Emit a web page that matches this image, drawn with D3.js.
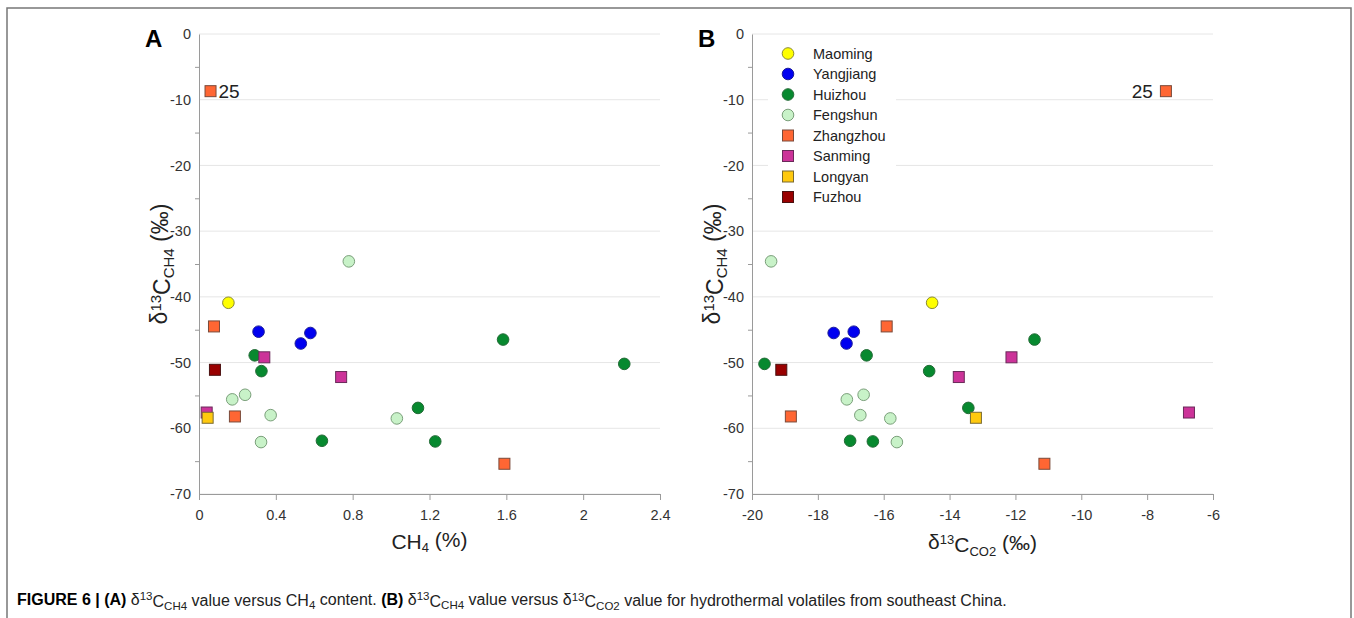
<!DOCTYPE html>
<html lang='en'>
<head>
  <meta charset='UTF-8'>
  <title>FIGURE 6 - d13C CH4 vs CH4 and d13C CO2</title>
  <style>
  body {
    margin: 0;
    background: #fff;
  }
  svg text {
    font-family: 'Liberation Sans', Arial, sans-serif;
    fill: #333;
  }
  .axis path, .axis line {
    stroke: #9a9a9a;
  }
  .axis text {
    font-size: 14.5px;
    fill: #333;
  }
  .grid line {
    stroke: #e6e6e6;
  }
  .panel-tag {
    font-size: 24px;
    font-weight: bold;
    fill: #000;
  }
  .label {
    font-size: 21px;
    fill: #222;
  }
  .ylabel {
    font-size: 23px;
    fill: #222;
  }
  .legend text {
    font-size: 14.5px;
    fill: #222;
  }
  .caption {
    font-size: 16px;
    fill: #222;
  }
  </style>
  <script src="https://d3js.org/d3.v7.min.js"></script>
</head>
<body>
  <script>

  // sites in legend order
  var sites = ['Maoming', 'Yangjiang', 'Huizhou', 'Fengshun', 'Zhangzhou', 'Sanming', 'Longyan', 'Fuzhou'];

  // one entry per sample
  var sampleSite = [
    'Maoming',
    'Yangjiang', 'Yangjiang', 'Yangjiang',
    'Huizhou', 'Huizhou', 'Huizhou', 'Huizhou', 'Huizhou', 'Huizhou', 'Huizhou',
    'Fengshun', 'Fengshun', 'Fengshun', 'Fengshun', 'Fengshun', 'Fengshun',
    'Zhangzhou', 'Zhangzhou', 'Zhangzhou', 'Zhangzhou',
    'Sanming', 'Sanming', 'Sanming',
    'Longyan',
    'Fuzhou'
  ];
  var ch4Pct = [
    0.153,
    0.31, 0.58, 0.53,
    0.29, 0.325, 0.64, 1.14, 1.23, 1.583, 2.214,
    0.78, 0.173, 0.24, 0.373, 0.323, 1.03,
    0.06, 0.078, 0.187, 1.59,
    0.34, 0.74, 0.04,
    0.045,
    0.083
  ];
  var d13cCH4 = [
    -40.9,
    -45.3, -45.5, -47.1,
    -48.9, -51.3, -61.9, -56.9, -62.0, -46.5, -50.2,
    -34.6, -55.6, -54.9, -58.0, -62.1, -58.5,
    -8.7, -44.5, -58.2, -65.4,
    -49.2, -52.2, -57.6,
    -58.4,
    -51.1
  ];
  var d13cCO2 = [
    -14.53,
    -16.91, -17.52, -17.13,
    -16.52, -14.62, -17.02, -13.43, -16.33, -11.42, -19.62,
    -19.42, -17.12, -16.61, -16.71, -15.60, -15.80,
    -7.43, -15.91, -18.82, -11.12,
    -12.12, -13.72, -6.73,
    -13.20,
    -19.11
  ];
  var sampleLabel = ['', '', '', '', '', '', '', '', '', '', '', '', '', '', '', '', '',
    '25', '', '', '', '', '', '', '', ''];

  var ch4Ticks = [0, 0.4, 0.8, 1.2, 1.6, 2, 2.4];
  var co2Ticks = [-20, -18, -16, -14, -12, -10, -8, -6];
  var yTicks = [0, -10, -20, -30, -40, -50, -60, -70];
  var yMinorTicks = [-5, -15, -25, -35, -45, -55, -65];

  // marker styles
  var fill = d3.scaleOrdinal().domain(sites)
    .range(['#ffff00', '#0000f0', '#07892f', '#c8f2c8', '#ff6633', '#cc3399', '#ffc90e', '#990000']);
  var stroke = d3.scaleOrdinal().domain(sites)
    .range(['#8a8a30', '#1a1a9a', '#236b36', '#7a9f7a', '#7a4a3a', '#6a2a5a', '#7a6a30', '#4a1010']);
  var squareSites = ['Zhangzhou', 'Sanming', 'Longyan', 'Fuzhou'];

  var samples = sampleSite.map(function (s, i) {
    return { site: s, ch4: ch4Pct[i], dch4: d13cCH4[i], dco2: d13cCO2[i], label: sampleLabel[i] };
  });

  var svgWidth = 1354;
  var svgHeight = 618;
  var svg = d3.select('body').append('svg')
    .attr('width', svgWidth)
    .attr('height', svgHeight);

  // outer frame, open at the bottom
  svg.append('rect')
    .attr('x', 7).attr('y', 8)
    .attr('width', 1344).attr('height', 640)
    .attr('fill', 'none')
    .attr('stroke', '#777')
    .attr('stroke-width', 1.5);

  var plotTop = 34;
  var plotBottom = 494;
  var y = d3.scaleLinear().domain([-70, 0]).range([plotBottom, plotTop]);
  var plain = function (d) { return String(d); }; // keep hyphen minus like the original

  function drawMarker(sel, size) {
    sel.each(function (d) {
      var node = d3.select(this);
      if (squareSites.indexOf(d.site) >= 0) {
        node.append('rect')
          .attr('x', -size / 2).attr('y', -size / 2)
          .attr('width', size).attr('height', size);
      } else {
        node.append('circle').attr('r', size / 2 + 0.3);
      }
      node.selectAll('rect, circle')
        .attr('fill', fill(d.site))
        .attr('stroke', stroke(d.site))
        .attr('stroke-width', 1);
    });
  }

  // d13C-style label built of tspans: [text, 'sup'|'sub'|null]
  function richText(text, parts, subSize) {
    var shift = 0;
    parts.forEach(function (p) {
      var t = text.append('tspan').text(p[0]);
      var target = p[1] === 'sup' ? -0.42 : p[1] === 'sub' ? 0.25 : 0;
      t.attr('dy', (target - shift) + 'em');
      shift = target;
      if (p[1]) t.style('font-size', subSize);
    });
  }

  function drawPanel(opt) {
    var x = d3.scaleLinear().domain(opt.domain).range([opt.left, opt.right]);
    var g = svg.append('g');

    // grid
    g.append('g').attr('class', 'grid')
      .selectAll('line').data(yTicks).enter().append('line')
      .attr('x1', opt.left).attr('x2', opt.right)
      .attr('y1', function (d) { return y(d); })
      .attr('y2', function (d) { return y(d); });

    // axes
    g.append('g')
      .attr('class', 'axis')
      .attr('transform', 'translate(0,' + plotBottom + ')')
      .call(d3.axisBottom(x).tickValues(opt.ticks).tickSize(6).tickSizeOuter(0).tickPadding(10)
        .tickFormat(plain));

    g.append('g')
      .attr('class', 'axis')
      .attr('transform', 'translate(' + opt.left + ',0)')
      .call(d3.axisLeft(y).tickValues(yTicks).tickSize(0).tickPadding(8).tickFormat(plain));

    g.append('g')
      .attr('class', 'axis')
      .attr('transform', 'translate(' + opt.left + ',0)')
      .call(d3.axisLeft(y).tickValues(yMinorTicks).tickSize(4).tickSizeOuter(0).tickFormat(''))
      .select('.domain').remove();

    // panel tag
    g.append('text')
      .attr('class', 'panel-tag')
      .attr('x', opt.left - 54)
      .attr('y', 47)
      .text(opt.tag);

    // axis labels
    var xl = g.append('text')
      .attr('class', 'label')
      .attr('text-anchor', 'middle')
      .attr('x', (opt.left + opt.right) / 2)
      .attr('y', 549);
    richText(xl, opt.xLabel, '13px');

    var yl = g.append('text')
      .attr('class', 'ylabel')
      .attr('text-anchor', 'middle')
      .attr('transform', 'translate(' + (opt.left - 32) + ',' + ((plotTop + plotBottom) / 2) + ') rotate(-90)');
    richText(yl, [['δ', null], ['13', 'sup'], ['C', null], ['CH4', 'sub'], [' (‰)', null]], '15px');

    // points
    var pts = g.selectAll('.pt')
      .data(samples)
      .enter()
      .append('g')
      .attr('class', 'pt')
      .attr('transform', function (d) { return 'translate(' + x(d[opt.key]) + ',' + y(d.dch4) + ')'; });
    drawMarker(pts, 11);

    g.selectAll('.pt-label')
      .data(samples.filter(function (d) { return d.label; }))
      .enter()
      .append('text')
      .attr('class', 'pt-label')
      .attr('x', function (d) { return x(d[opt.key]) + opt.labelDx; })
      .attr('y', function (d) { return y(d.dch4); })
      .attr('dy', '0.36em')
      .attr('text-anchor', opt.labelAnchor)
      .style('font-size', '19px')
      .style('fill', '#222')
      .text(function (d) { return d.label; });

    return g;
  }

  drawPanel({
    tag: 'A', key: 'ch4', domain: [0, 2.4], ticks: ch4Ticks, left: 199, right: 660,
    xLabel: [['CH', null], ['4', 'sub'], [' (%)', null]],
    labelDx: 8, labelAnchor: 'start'
  });

  var panelB = drawPanel({
    tag: 'B', key: 'dco2', domain: [-20, -6], ticks: co2Ticks, left: 752, right: 1213,
    xLabel: [['δ', null], ['13', 'sup'], ['C', null], ['CO2', 'sub'], [' (‰)', null]],
    labelDx: -13, labelAnchor: 'end'
  });

  // legend (white box over the grid)
  var legend = panelB.append('g').attr('class', 'legend');
  legend.append('rect')
    .attr('x', 768).attr('y', 40)
    .attr('width', 128).attr('height', 168)
    .attr('fill', '#fff');

  var rows = legend.selectAll('.row')
    .data(sites.map(function (s) { return { site: s }; }))
    .enter()
    .append('g')
    .attr('class', 'row')
    .attr('transform', function (d, i) { return 'translate(788,' + (53.5 + i * 20.5) + ')'; });
  drawMarker(rows, 11);
  rows.append('text')
    .attr('x', 25)
    .attr('dy', '0.36em')
    .text(function (d) { return d.site; });

  // caption
  var cap = svg.append('text')
    .attr('class', 'caption')
    .attr('x', 17)
    .attr('y', 605);
  var capParts = [
    ['FIGURE 6 | (A) ', null, true], ['δ', null], ['13', 'sup'], ['C', null], ['CH4', 'sub'],
    [' value versus CH', null], ['4', 'sub'], [' content. ', null], ['(B) ', null, true],
    ['δ', null], ['13', 'sup'], ['C', null], ['CH4', 'sub'], [' value versus ', null],
    ['δ', null], ['13', 'sup'], ['C', null], ['CO2', 'sub'],
    [' value for hydrothermal volatiles from southeast China.', null]
  ];
  richText(cap, capParts, '11.5px');
  cap.selectAll('tspan').each(function (d, i) {
    if (capParts[i][2]) d3.select(this).style('font-weight', 'bold').style('fill', '#000');
  });
  </script>
</body>
</html>
